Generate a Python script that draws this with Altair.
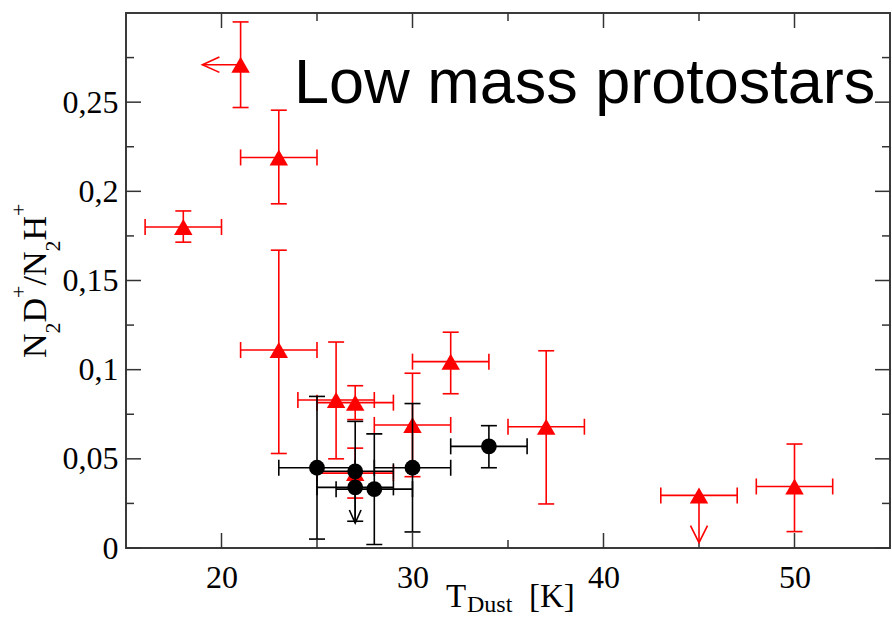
import altair as alt
import pandas as pd

# ---------------- data ----------------
# red triangles
red_T   = [18, 21, 23, 23, 26, 27, 27, 30, 32, 37, 45, 50]
red_y   = [0.180, 0.271, 0.219, 0.111, 0.083, 0.0815, 0.042, 0.069, 0.1045, 0.068, 0.0295, 0.0345]
red_xlo = [16, None, 21, 21, 24, 25, 25, 28, 30, 35, 43, 48]
red_xhi = [20, None, 25, 25, 28, 29, 29, 32, 34, 39, 47, 52]
red_ylo = [0.1715, 0.247, 0.193, 0.053, 0.050, 0.072, 0.028, 0.040, 0.0865, 0.0247, None, 0.0092]
red_yhi = [0.189, 0.295, 0.2455, 0.167, 0.1155, 0.091, 0.056, 0.098, 0.121, 0.1106, None, 0.0583]

# black circles
blk_T   = [25, 27, 27, 28, 30, 34]
blk_y   = [0.045, 0.043, 0.034, 0.033, 0.045, 0.057]
blk_xlo = [23, 25, 25, 26, 28, 32]
blk_xhi = [27, 29, 29, 30, 32, 36]
blk_ylo = [0.005, 0.015, None, 0.002, 0.009, 0.045]
blk_yhi = [0.085, 0.071, None, 0.064, 0.081, 0.0686]

# limits (arrows)
red_xlim_T, red_xlim_y, red_xlim_to = [21], [0.271], [19]
red_ylim_T, red_ylim_y, red_ylim_to = [45], [0.0295], [0.003]
blk_ylim_T, blk_ylim_y, blk_ylim_to = [27], [0.034], [0.014]

# axis ticks
x_major = [20, 30, 40, 50]
x_minor = [25, 35, 45]
y_major = [0.0, 0.05, 0.1, 0.15, 0.2, 0.25]
y_minor = [0.025, 0.075, 0.125, 0.175, 0.225, 0.275]

title_text = ["Low mass protostars"]
title_T, title_y = [23.8], [0.2494]

# ---------------- layout ----------------
W, H = 764, 535
RED = "#ff0000"
BLK = "#000000"
LW = 1.6
CAP = 16
SERIF = "Liberation Serif"

XS = alt.Scale(domain=[15, 55], nice=False, zero=False)
YS = alt.Scale(domain=[0, 0.3], nice=False, zero=False)
AX = alt.Axis(values=x_major, title=None, ticks=False, tickSize=0, domain=False, grid=False,
              labelFont=SERIF, labelFontSize=32, labelColor="#000", labelPadding=14, format="d")
AY = alt.Axis(values=y_major, title=None, ticks=False, tickSize=0, domain=False, grid=False,
              labelFont=SERIF, labelFontSize=32, labelColor="#000", labelPadding=8,
              labelExpr="replace(format(datum.value, '~g'), '.', ',')")


def xq(field):
    return alt.X(f"{field}:Q", scale=XS, axis=AX, title=None)


def yq(field):
    return alt.Y(f"{field}:Q", scale=YS, axis=AY, title=None)


def valid(rows):
    return pd.DataFrame([r for r in rows if all(v is not None for v in r.values())])


def series_layers(T, y, xlo, xhi, ylo, yhi, color, shape, size):
    xe = valid([{"T": a, "y": b, "lo": c, "hi": d} for a, b, c, d in zip(T, y, xlo, xhi)])
    ye = valid([{"T": a, "y": b, "lo": c, "hi": d} for a, b, c, d in zip(T, y, ylo, yhi)])
    xcap = pd.DataFrame({"T": list(xe["lo"]) + list(xe["hi"]), "y": list(xe["y"]) * 2})
    ycap = pd.DataFrame({"T": list(ye["T"]) * 2, "y": list(ye["lo"]) + list(ye["hi"])})
    pts = pd.DataFrame({"T": T, "y": y})
    return [
        alt.Chart(xe).mark_rule(color=color, strokeWidth=LW).encode(x=xq("lo"), x2="hi", y=yq("y")),
        alt.Chart(ye).mark_rule(color=color, strokeWidth=LW).encode(x=xq("T"), y=yq("lo"), y2="hi"),
        alt.Chart(xcap).mark_tick(color=color, orient="vertical", size=CAP, thickness=LW, opacity=1)
        .encode(x=xq("T"), y=yq("y")),
        alt.Chart(ycap).mark_tick(color=color, orient="horizontal", size=CAP, thickness=LW, opacity=1)
        .encode(x=xq("T"), y=yq("y")),
    ], alt.Chart(pts).mark_point(shape=shape, size=size, filled=True, color=color, opacity=1).encode(
        x=xq("T"), y=yq("y"))


red_err, red_pts = series_layers(red_T, red_y, red_xlo, red_xhi, red_ylo, red_yhi, RED, "triangle-up", 340)
blk_err, blk_pts = series_layers(blk_T, blk_y, blk_xlo, blk_xhi, blk_ylo, blk_yhi, BLK, "circle", 250)

# arrows
rx = pd.DataFrame({"T": red_xlim_T, "y": red_xlim_y, "to": red_xlim_to})
ry = pd.DataFrame({"T": red_ylim_T, "y": red_ylim_y, "to": red_ylim_to})
by = pd.DataFrame({"T": blk_ylim_T, "y": blk_ylim_y, "to": blk_ylim_to})
arrows = [
    alt.Chart(rx).mark_rule(color=RED, strokeWidth=LW).encode(x=xq("T"), x2="to", y=yq("y")),
    alt.Chart(rx).mark_point(shape="M1,-0.45L0,0L1,0.45", size=1156, filled=False, color=RED,
                             strokeWidth=LW, opacity=1).encode(x=xq("to"), y=yq("y")),
    alt.Chart(ry).mark_rule(color=RED, strokeWidth=LW).encode(x=xq("T"), y=yq("y"), y2="to"),
    alt.Chart(ry).mark_point(shape="M-0.5,-1L0,0L0.5,-1", size=1156, filled=False, color=RED,
                             strokeWidth=LW, opacity=1).encode(x=xq("T"), y=yq("to")),
    alt.Chart(by).mark_rule(color=BLK, strokeWidth=LW).encode(x=xq("T"), y=yq("y"), y2="to"),
    alt.Chart(by).mark_point(shape="M-0.45,-1L0,0L0.45,-1", size=676, filled=False, color=BLK,
                             strokeWidth=LW, opacity=1).encode(x=xq("T"), y=yq("to")),
]

# inward ticks on all four sides
TICKC = "#333333"


def xticks(vals, length):
    df = pd.DataFrame({"T": vals})
    return [
        alt.Chart(df).mark_rule(color=TICKC, strokeWidth=1.5).encode(
            x=xq("T"), y=alt.value(H), y2=alt.value(H - length)),
        alt.Chart(df).mark_rule(color=TICKC, strokeWidth=1.5).encode(
            x=xq("T"), y=alt.value(0), y2=alt.value(length)),
    ]


def yticks(vals, length):
    df = pd.DataFrame({"y": vals})
    return [
        alt.Chart(df).mark_rule(color=TICKC, strokeWidth=1.5).encode(
            y=yq("y"), x=alt.value(0), x2=alt.value(length)),
        alt.Chart(df).mark_rule(color=TICKC, strokeWidth=1.5).encode(
            y=yq("y"), x=alt.value(W), x2=alt.value(W - length)),
    ]


tick_layers = xticks(x_major, 15) + xticks(x_minor, 8) + yticks(y_major, 15) + yticks(y_minor, 8)

# in-plot title
title_layer = alt.Chart(pd.DataFrame({"T": title_T, "y": title_y, "t": title_text})).mark_text(
    font="Liberation Sans", fontSize=63, align="left", baseline="alphabetic", color="#000").encode(
    x=xq("T"), y=yq("y"), text="t:N")

# axis titles built from pieces (sub/superscripts)
one = pd.DataFrame({"a": [0]})


def piece(text, x, y, size, angle=0):
    kw = dict(text=text, font=SERIF, fontSize=size, align="left", baseline="alphabetic", color="#000")
    if angle:
        kw["angle"] = angle
    return alt.Chart(one).mark_text(**kw).encode(x=alt.value(x), y=alt.value(y))


OX, OY = 126, 13  # plot origin in page pixels
xt = [
    piece("T", 446 - OX, 607 - OY, 33),
    piece("Dust", 467 - OX, 612 - OY, 24),
    piece("[K]", 529 - OX, 607 - OY, 33),
]
MB, SB, PB = 46 - OX, 60 - OX, 26 - OX
yt = [
    piece("N", MB, 358 - OY, 34, 270),
    piece("2", SB, 333.5 - OY, 22, 270),
    piece("D", MB, 322.5 - OY, 34, 270),
    piece("+", PB, 298 - OY, 22, 270),
    piece("/", MB, 285.6 - OY, 34, 270),
    piece("N", MB, 276.1 - OY, 34, 270),
    piece("2", SB, 251.6 - OY, 22, 270),
    piece("H", MB, 240.6 - OY, 34, 270),
    piece("+", PB, 216.1 - OY, 22, 270),
]

chart = alt.layer(
    *tick_layers,
    *red_err, *arrows[:4], red_pts,
    *blk_err, *arrows[4:], blk_pts,
    title_layer, *xt, *yt,
).properties(
    width=W, height=H,
    padding={"left": OX, "top": OY, "right": 892 - OX - W, "bottom": 619 - OY - H},
    autosize=alt.AutoSizeParams(type="none"),
    background="#ffffff",
).configure_view(stroke="#3a3a3a", strokeWidth=2)

chart.save("out.html", embed_options={"renderer": "svg", "actions": False})
